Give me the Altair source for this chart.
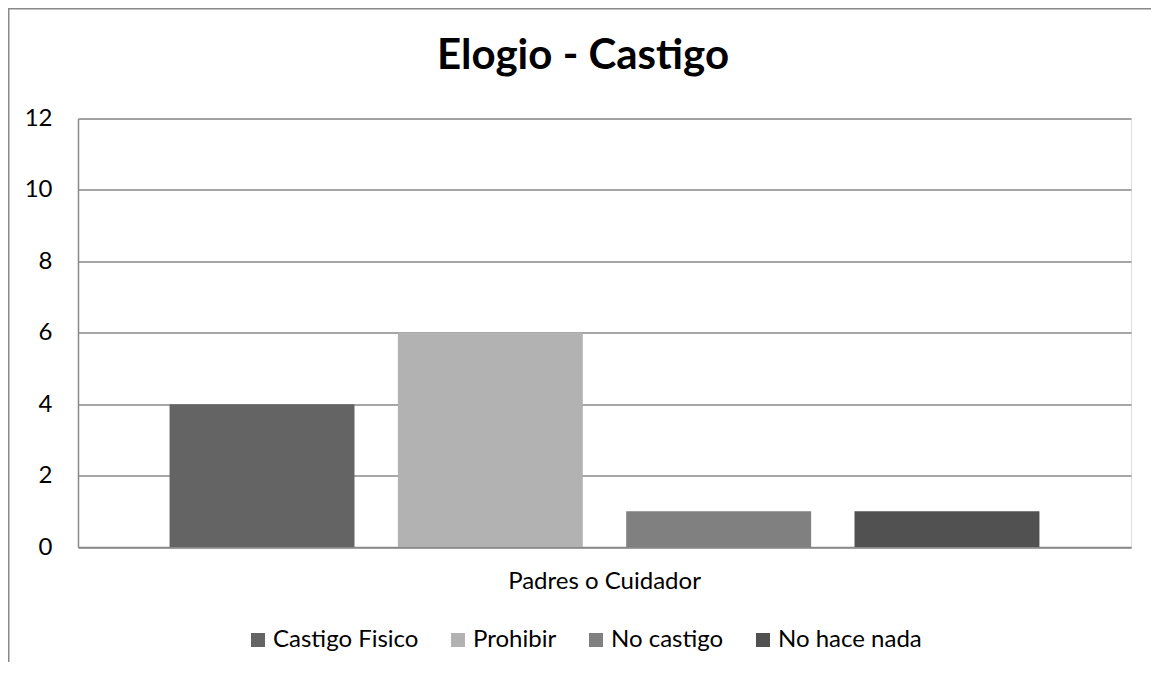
import altair as alt
import pandas as pd

title_text = ["Elogio - Castigo"]
category = ["Padres o Cuidador"]
series = ["Castigo Fisico", "Prohibir", "No castigo", "No hace nada"]
values = [4, 6, 1, 1]
colors = ["#646464", "#b2b2b2", "#808080", "#515151"]
y_ticks = [0, 2, 4, 6, 8, 10, 12]

df = pd.DataFrame({
    "grupo": category * len(series),
    "serie": series,
    "valor": values,
})

FONT = "Lato"
W, H = 1053, 428.5
PAD = {"left": 70, "top": 110.5, "right": 20, "bottom": 115}
FRAME = "#898989"

bars = alt.Chart(df).mark_bar().encode(
    x=alt.X("grupo:N", title=None,
            scale=alt.Scale(paddingInner=0, paddingOuter=0),
            axis=alt.Axis(labelAngle=0, ticks=False, domain=True, domainColor=FRAME,
                          domainWidth=1.5, labelFont=FONT, labelFontSize=24,
                          labelColor="#000000", labelBaseline="alphabetic",
                          labelPadding=41, labelLimit=500, grid=False)),
    xOffset=alt.XOffset("serie:N", sort=series,
                        scale=alt.Scale(paddingInner=0.19, paddingOuter=0.401)),
    y=alt.Y("valor:Q", title=None,
            scale=alt.Scale(domain=[0, 12], nice=False),
            axis=alt.Axis(values=y_ticks, ticks=False, domain=True, domainColor=FRAME,
                          domainWidth=1.5, grid=True, gridColor=FRAME, gridWidth=1.3,
                          labelFont=FONT, labelFontSize=24, labelColor="#000000",
                          labelPadding=26)),
    color=alt.Color("serie:N", sort=series,
                    scale=alt.Scale(domain=series, range=colors),
                    legend=alt.Legend(title=None, orient="none", direction="horizontal",
                                      legendX=168, legendY=509.5, padding=0,
                                      symbolType="square", symbolSize=196,
                                      symbolStrokeWidth=0, labelOffset=3,
                                      columnPadding=27, labelFont=FONT,
                                      labelFontSize=24, labelColor="#000000",
                                      labelLimit=400)),
)

title = alt.Chart(alt.Data(values=[{"t": t} for t in title_text])).mark_text(
    font=FONT, fontSize=42, fontWeight="bold", color="#000000",
    align="center", baseline="alphabetic",
).encode(text="t:N", x=alt.value(W / 2 - 21.5), y=alt.value(-50))

frame_data = alt.Data(values=[{"k": 1}])
frame_left = alt.Chart(frame_data).mark_rule(color=FRAME, strokeWidth=1.5).encode(
    x=alt.value(-69.25), y=alt.value(-110), y2=alt.value(H + PAD["bottom"]))
frame_top = alt.Chart(frame_data).mark_rule(color=FRAME, strokeWidth=1.5).encode(
    y=alt.value(-109.75), x=alt.value(-70), x2=alt.value(W + PAD["right"]))

chart = alt.layer(bars, title, frame_left, frame_top).properties(
    width=W,
    height=H,
    padding=PAD,
    autosize=alt.AutoSizeParams(type="none"),
).configure_view(stroke=None).configure(background="white")

chart.save("out.html", embed_options={"renderer": "svg", "actions": False})
